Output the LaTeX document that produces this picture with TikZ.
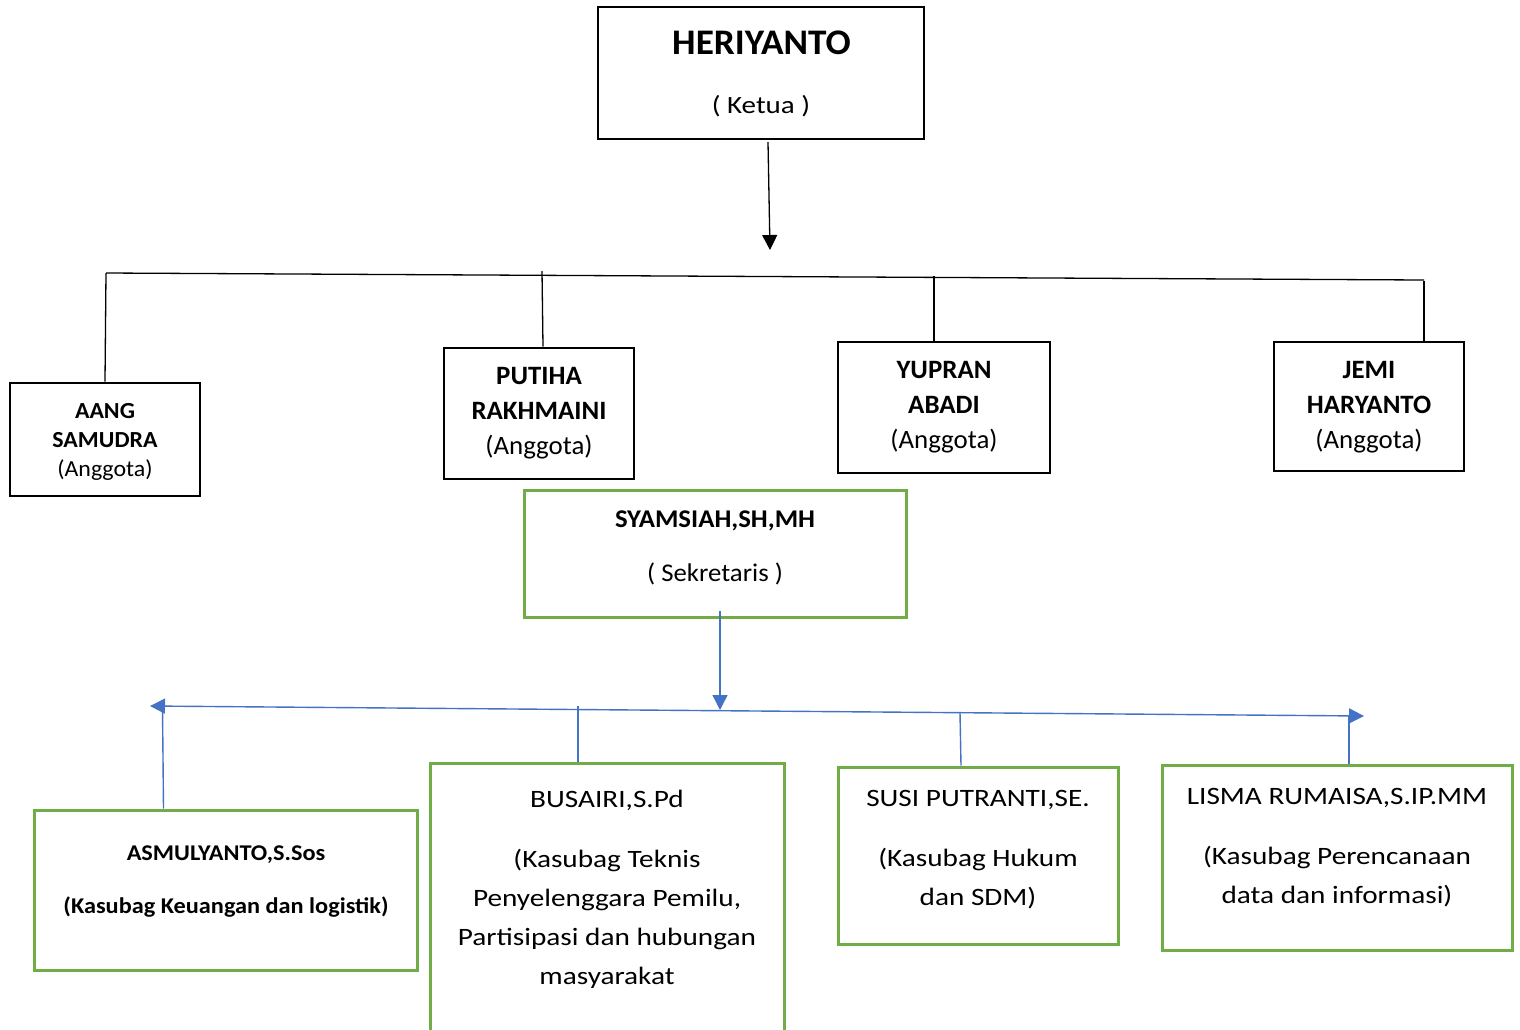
\documentclass[tikz,border=0pt]{standalone}
\usepackage{fontspec}
\setmainfont{Carlito}
\newfontfamily\fA[FakeStretch=1.035]{Carlito}
\newfontfamily\fB[FakeStretch=1.17]{Carlito}
\newfontfamily\fC[FakeStretch=1.08]{Carlito}
\newfontfamily\fD[FakeStretch=1.04]{Carlito}
\newfontfamily\fE[FakeStretch=1.015]{Carlito}
\newfontfamily\fF[FakeStretch=1.05]{Carlito}
\usetikzlibrary{arrows.meta}
\definecolor{boxgreen}{HTML}{70AD47}
\definecolor{lineblue}{HTML}{4472C4}
\tikzset{
  blackbox/.style={draw=black, line width=2.8pt, rectangle, inner sep=0pt},
  greenbox/.style={draw=boxgreen, line width=3pt, rectangle, inner sep=0pt},
  txt/.style={align=center, inner sep=0pt},
  blackline/.style={draw=black, line width=1.3pt},
  blueline/.style={draw=lineblue, line width=1.4pt},
  tip/.style={-{Triangle[length=15pt,width=15pt]}},
}
\begin{document}
\begin{tikzpicture}[x=1pt,y=-1pt]
\clip (0,0) rectangle (1520,1029);
\fill[white] (0,0) rectangle (1520,1029);

% Ketua
\node[blackbox, minimum width=326pt, minimum height=132pt] (ketua) at (761,73) {};
\node[txt, font=\fA\fontsize{36}{40}\selectfont\bfseries] (ketuaN) at (761.5,43) {HERIYANTO};
\node[txt, font=\fB\fontsize{24.8}{30}\selectfont] (ketuaR) at (761,106) {( Ketua )};

% Anggota
\node[blackbox, minimum width=190pt, minimum height=113pt] (aang) at (105,439.5) {};
\node[txt, font=\fD\fontsize{23}{29}\selectfont] (aangT) at (105,442) {\textbf{AANG}\\\textbf{SAMUDRA}\\(Anggota)};

\node[blackbox, minimum width=190pt, minimum height=131pt] (putiha) at (539,413.5) {};
\node[txt, font=\fE\fontsize{26.5}{35}\selectfont] (putihaT) at (539,413.5) {\textbf{PUTIHA}\\\textbf{RAKHMAINI}\\(Anggota)};

\node[blackbox, minimum width=212pt, minimum height=131pt] (yupran) at (944,407.5) {};
\node[txt, font=\fE\fontsize{26.5}{35}\selectfont] (yupranT) at (944,407.5) {\textbf{YUPRAN}\\\textbf{ABADI}\\(Anggota)};

\node[blackbox, minimum width=190pt, minimum height=129pt] (jemi) at (1369,406.5) {};
\node[txt, font=\fE\fontsize{26.5}{35}\selectfont] (jemiT) at (1369,407.5) {\textbf{JEMI}\\\textbf{HARYANTO}\\(Anggota)};

% Sekretaris
\node[greenbox, minimum width=382pt, minimum height=127pt] (sek) at (715,553.5) {};
\node[txt, font=\fF\fontsize{25.5}{54}\selectfont] (sekT) at (715,547.5) {\textbf{SYAMSIAH,SH,MH}\\( Sekretaris )};

% Kasubag
\node[greenbox, minimum width=383pt, minimum height=160pt] (asm) at (225.5,890) {};
\node[txt, font=\fC\fontsize{22.5}{53}\selectfont\bfseries] (asmT) at (226,881.5) {ASMULYANTO,S.Sos\\(Kasubag Keuangan dan logistik)};

\node[greenbox, minimum width=354pt, minimum height=277pt] (bus) at (607,901.5) {};
\node[txt, font=\fB\fontsize{25}{39}\selectfont] (busT) at (607,889.5) {BUSAIRI,S.Pd\\[21pt](Kasubag Teknis\\Penyelenggara Pemilu,\\Partisipasi dan hubungan\\masyarakat};

\node[greenbox, minimum width=280pt, minimum height=177pt] (susi) at (978,855.5) {};
\node[txt, font=\fB\fontsize{25}{39}\selectfont] (susiT) at (978,849.5) {SUSI PUTRANTI,SE.\\[21pt](Kasubag Hukum\\dan SDM)};

\node[greenbox, minimum width=350pt, minimum height=185pt] (lisma) at (1337,857.5) {};
\node[txt, font=\fB\fontsize{25}{39}\selectfont] (lismaT) at (1337,847.5) {LISMA RUMAISA,S.IP.MM\\[21pt](Kasubag Perencanaan\\data dan informasi)};

% Black connectors
\coordinate (ktip) at (770,250);
\draw[blackline, tip] (768,142) -- (ktip);
\coordinate (barL) at (106,273);
\coordinate (barR) at (1424,280);
\draw[blackline] (barL) -- (barR);
\draw[blackline] (barL) -- (105,0 |- aang.north);
\draw[blackline] (542,271) -- (543,0 |- putiha.north);
\draw[blackline] (934,276) -- (934,0 |- yupran.north);
\draw[blackline] (1424,281) -- (1424,0 |- jemi.north);

% Blue connectors
\coordinate (stip) at (720,710);
\draw[blueline, tip] (720,611) -- (stip);
\coordinate (hl) at (150,706);
\coordinate (hr) at (1364,716);
\draw[blueline, {Triangle[length=15pt,width=15pt]}-{Triangle[length=15pt,width=15pt]}] (hl) -- (hr);
\draw[blueline] (162.5,707) -- (163.5,0 |- asm.north);
\draw[blueline] (578,706) -- (578,0 |- bus.north);
\draw[blueline] (960,713) -- (961,0 |- susi.north);
\draw[blueline] (1349,716) -- (1349,0 |- lisma.north);
\end{tikzpicture}
\end{document}
